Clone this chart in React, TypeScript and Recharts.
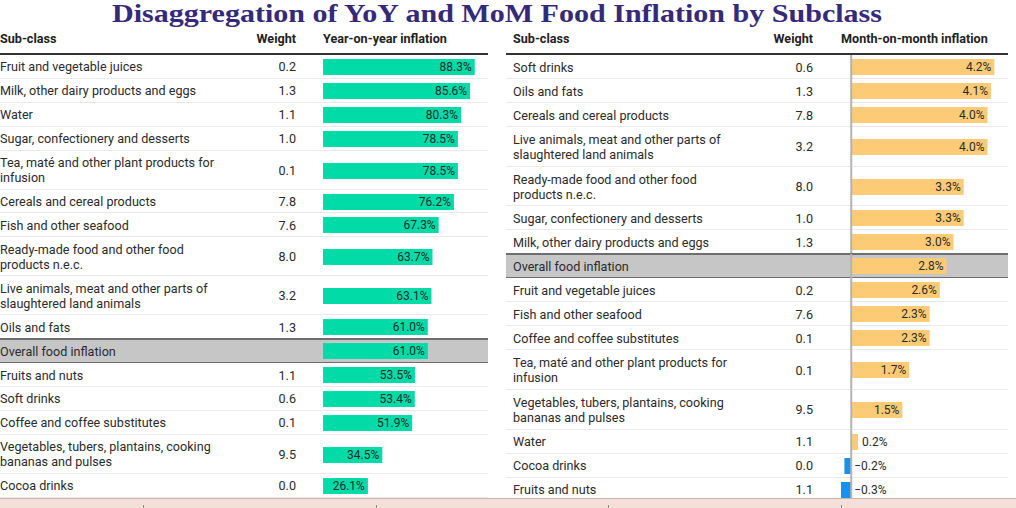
import React from "react";
import { BarChart, Bar, XAxis, YAxis, Cell, LabelList, ReferenceLine } from "recharts";

// Year-on-year table (left)
const yoyNames = [
  "Fruit and vegetable juices",
  "Milk, other dairy products and eggs",
  "Water",
  "Sugar, confectionery and desserts",
  "Tea, maté and other plant products for\ninfusion",
  "Cereals and cereal products",
  "Fish and other seafood",
  "Ready-made food and other food\nproducts n.e.c.",
  "Live animals, meat and other parts of\nslaughtered land animals",
  "Oils and fats",
  "Overall food inflation",
  "Fruits and nuts",
  "Soft drinks",
  "Coffee and coffee substitutes",
  "Vegetables, tubers, plantains, cooking\nbananas and pulses",
  "Cocoa drinks",
];
const yoyWeights = ["0.2", "1.3", "1.1", "1.0", "0.1", "7.8", "7.6", "8.0", "3.2", "1.3", "", "1.1", "0.6", "0.1", "9.5", "0.0"];
const yoyValues = [88.3, 85.6, 80.3, 78.5, 78.5, 76.2, 67.3, 63.7, 63.1, 61.0, 61.0, 53.5, 53.4, 51.9, 34.5, 26.1];

// Month-on-month table (right)
const momNames = [
  "Soft drinks",
  "Oils and fats",
  "Cereals and cereal products",
  "Live animals, meat and other parts of\nslaughtered land animals",
  "Ready-made food and other food\nproducts n.e.c.",
  "Sugar, confectionery and desserts",
  "Milk, other dairy products and eggs",
  "Overall food inflation",
  "Fruit and vegetable juices",
  "Fish and other seafood",
  "Coffee and coffee substitutes",
  "Tea, maté and other plant products for\ninfusion",
  "Vegetables, tubers, plantains, cooking\nbananas and pulses",
  "Water",
  "Cocoa drinks",
  "Fruits and nuts",
];
const momWeights = ["0.6", "1.3", "7.8", "3.2", "8.0", "1.0", "1.3", "", "0.2", "7.6", "0.1", "0.1", "9.5", "1.1", "0.0", "1.1"];
const momValues = [4.2, 4.1, 4.0, 4.0, 3.3, 3.3, 3.0, 2.8, 2.6, 2.3, 2.3, 1.7, 1.5, 0.2, -0.2, -0.3];

const OVERALL = "Overall food inflation";
const FONT = "Roboto, 'Noto Sans', sans-serif";
const TEXT_SIZE = 12.6;

type Panel = {
  left: number;
  width: number;
  namePad: number;
  weightRight: number;
  barLeft: number;
  barWidth: number;
  domain: [number, number];
  zeroLine: boolean;
  single: number;
  double: number;
  header: string;
  pos: string;
  neg: string;
};

const leftPanel: Panel = {
  left: 0, width: 488, namePad: 0, weightRight: 296, barLeft: 323, barWidth: 165,
  domain: [0, 96], zeroLine: false, single: 23.9, double: 39,
  header: "Year-on-year inflation", pos: "#00dba8", neg: "#1a90e8",
};
const rightPanel: Panel = {
  left: 506, width: 502, namePad: 7, weightRight: 307, barLeft: 335, barWidth: 167,
  domain: [-0.3, 4.6], zeroLine: true, single: 24, double: 39.7,
  header: "Month-on-month inflation", pos: "#fdca76", neg: "#1a90e8",
};

const fmt = (v: number) => (v < 0 ? "\u2212" + Math.abs(v).toFixed(1) : v.toFixed(1)) + "%";

const renderLabel = (props: any) => {
  const { x, y, width, height, value } = props;
  const v = Number(value);
  const x0 = Number(x);
  const w = Number(width);
  const l = Math.min(x0, x0 + w);
  const r = Math.max(x0, x0 + w);
  const cy = Number(y) + Number(height) / 2;
  const txt = fmt(v);
  const need = txt.length * 6.7 + 6;
  const common = { y: cy, dy: "0.36em", fontSize: 12, fill: "#2a2a2a", fontFamily: FONT };
  if (v >= 0 && r - l > need) {
    return <text {...common} x={r - 3} textAnchor="end">{txt}</text>;
  }
  return <text {...common} x={v < 0 ? r + 3 : r + 4} textAnchor="start">{txt}</text>;
};

const Row: React.FC<{ p: Panel; name: string; weight: string; value: number }> = ({ p, name, weight, value }) => {
  const overall = name === OVERALL;
  const h = name.includes("\n") ? p.double : p.single;
  return (
    <div style={{ position: "relative", height: h, background: overall ? "#c6c6c6" : "transparent" }}>
      {overall ? (
        <>
          <div style={{ position: "absolute", left: 0, right: 0, top: -1, height: 1.5, background: "#6e6e6e" }} />
          <div style={{ position: "absolute", left: 0, right: 0, bottom: 0, height: 1.5, background: "#6e6e6e" }} />
        </>
      ) : (
        <div style={{ position: "absolute", left: 0, right: 0, bottom: 0, height: 1, background: "#e9e9e9" }} />
      )}
      <div
        style={{
          position: "absolute", left: p.namePad, top: 0, height: h, display: "flex", alignItems: "center",
          whiteSpace: "pre", lineHeight: "15px", fontSize: TEXT_SIZE, color: "#2b2b2b",
        }}
      >
        {name}
      </div>
      <div
        style={{
          position: "absolute", right: p.width - p.weightRight, top: 0, height: h, display: "flex",
          alignItems: "center", fontSize: TEXT_SIZE, color: "#2b2b2b",
        }}
      >
        {weight}
      </div>
      <div style={{ position: "absolute", left: p.barLeft, top: 0 }}>
        <BarChart
          width={p.barWidth}
          height={h}
          data={[{ name, value }]}
          layout="vertical"
          margin={{ top: 0, right: 0, bottom: 0, left: 0 }}
        >
          <XAxis type="number" domain={p.domain} hide allowDataOverflow />
          <YAxis type="category" dataKey="name" hide />
          <Bar dataKey="value" barSize={16} isAnimationActive={false}>
            <Cell fill={value < 0 ? p.neg : p.pos} />
            <LabelList dataKey="value" content={renderLabel} />
          </Bar>
          {p.zeroLine && <ReferenceLine x={0} stroke="#b3b3b3" strokeWidth={2} />}
        </BarChart>
      </div>
    </div>
  );
};

const Table: React.FC<{ p: Panel; names: string[]; weights: string[]; values: number[] }> = ({ p, names, weights, values }) => (
  <div style={{ position: "absolute", left: p.left, top: 26, width: p.width }}>
    <div style={{ position: "relative", height: 27, fontSize: TEXT_SIZE, fontWeight: 700, color: "#222" }}>
      <div style={{ position: "absolute", left: p.namePad, top: 5 }}>Sub-class</div>
      <div style={{ position: "absolute", right: p.width - p.weightRight, top: 5 }}>Weight</div>
      <div style={{ position: "absolute", left: p.barLeft, top: 5 }}>{p.header}</div>
    </div>
    <div style={{ height: 2, background: "#333" }} />
    {names.map((n, i) => (
      <Row key={i} p={p} name={n} weight={weights[i]} value={values[i]} />
    ))}
  </div>
);

export default function App() {
  return (
    <div
      style={{
        position: "absolute", left: 0, top: 0, width: 1016, height: 508, overflow: "hidden",
        background: "#fff", fontFamily: FONT,
      }}
    >
      <svg width={1016} height={32} style={{ position: "absolute", left: 0, top: 0, overflow: "visible" }}>
        <text
          x={112}
          y={22}
          textLength={770}
          lengthAdjust="spacingAndGlyphs"
          fontFamily="'Liberation Serif', 'DejaVu Serif', serif"
          fontWeight={700}
          fontSize={26}
          fill="#35297a"
        >
          Disaggregation of YoY and MoM Food Inflation by Subclass
        </text>
      </svg>
      <Table p={leftPanel} names={yoyNames} weights={yoyWeights} values={yoyValues} />
      <Table p={rightPanel} names={momNames} weights={momWeights} values={momValues} />
      <div
        style={{
          position: "absolute", left: 0, top: 498, width: 1016, height: 10, background: "#f4e0d9",
          borderTop: "1px solid #cdb5ad",
        }}
      >
        {[143, 376, 608, 841].map((x) => (
          <div key={x} style={{ position: "absolute", left: x, top: 6, width: 1, height: 4, background: "#9a8a86" }} />
        ))}
      </div>
    </div>
  );
}
